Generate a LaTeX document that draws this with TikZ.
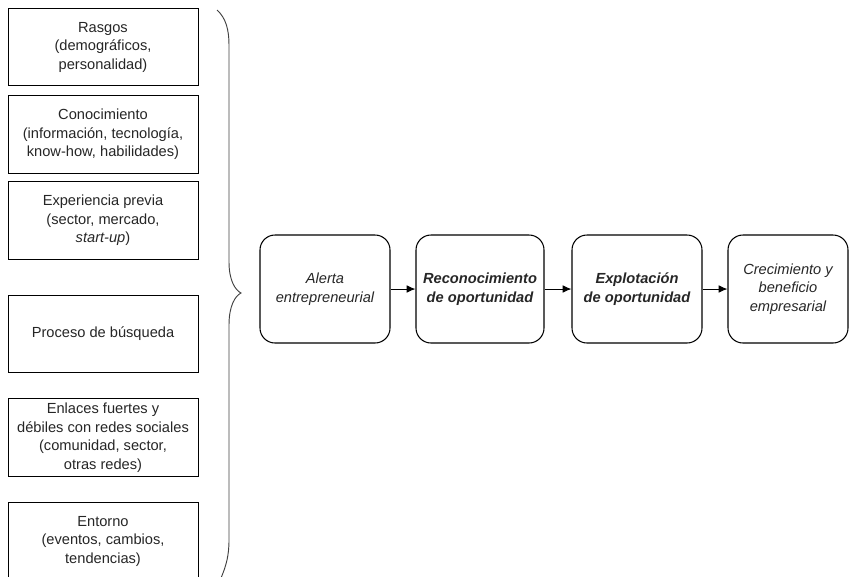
\documentclass[tikz,border=0pt]{standalone}
\usepackage{fontspec}
\setmainfont{Liberation Sans}
\usetikzlibrary{arrows.meta}
\begin{document}
\begin{tikzpicture}[x=0.03cm,y=-0.03cm,>={Latex[length=7.5pt,width=6.5pt]},
        font=\fontsize{12.5}{15.8}\selectfont,
        factor/.style={draw,line width=0.8pt,minimum width=5.7cm,minimum height=2.33cm,
            align=center,inner sep=0pt,text=black!85},
        etapa/.style={draw,line width=0.9pt,rounded corners=0.45cm,minimum height=3.24cm,
            align=center,inner sep=0pt,text=black!85}]
                \useasboundingbox (0,0) rectangle (849,576);
                \clip (0,0) rectangle (849,576);
                %===========================================
                \node[factor] (rasgos) at (103,47) {Rasgos\\(demográficos,\\personalidad)};
                \node[factor] (conoc) at (103,134.5) {Conocimiento\\(información, tecnología,\\know-how, habilidades)};
                \node[factor] (exper) at (103,220.5) {Experiencia previa\\(sector, mercado,\\\textit{start-up})};
                \node[factor] (busq) at (103,334) {Proceso de búsqueda};
                \node[factor] (redes) at (103,437.5) {Enlaces fuertes y\\débiles con redes sociales\\(comunidad, sector,\\otras redes)};
                \node[factor] (entorno) at (103,541) {Entorno\\(eventos, cambios,\\tendencias)};
                %===========================================
                \draw[line width=0.8pt,black!75] (217,10) .. controls (226,18) and (229,30) .. (229,45)
                    -- (229,262) .. controls (229,280) and (235,290) .. (241,293)
                    .. controls (235,296) and (229,306) .. (229,325)
                    -- (229,540) .. controls (229,556) and (226,566) .. (221,578);
                %===========================================
                \node[etapa,minimum width=3.9cm] (alerta) at (325,289) {\itshape Alerta\\\itshape entrepreneurial};
                \node[etapa,minimum width=3.84cm] (recon) at (480,289) {\bfseries\itshape Reconocimiento\\\bfseries\itshape de oportunidad};
                \node[etapa,minimum width=3.9cm] (explot) at (637,289) {\bfseries\itshape Explotación\\\bfseries\itshape de oportunidad};
                \node[etapa,minimum width=3.6cm] (crec) at (788,289) {\itshape Crecimiento y\\\itshape beneficio\\\itshape empresarial};
                \draw[->,line width=0.8pt] (alerta)--(recon);
                \draw[->,line width=0.8pt] (recon)--(explot);
                \draw[->,line width=0.8pt] (explot)--(crec);
        \end{tikzpicture}
\end{document}
